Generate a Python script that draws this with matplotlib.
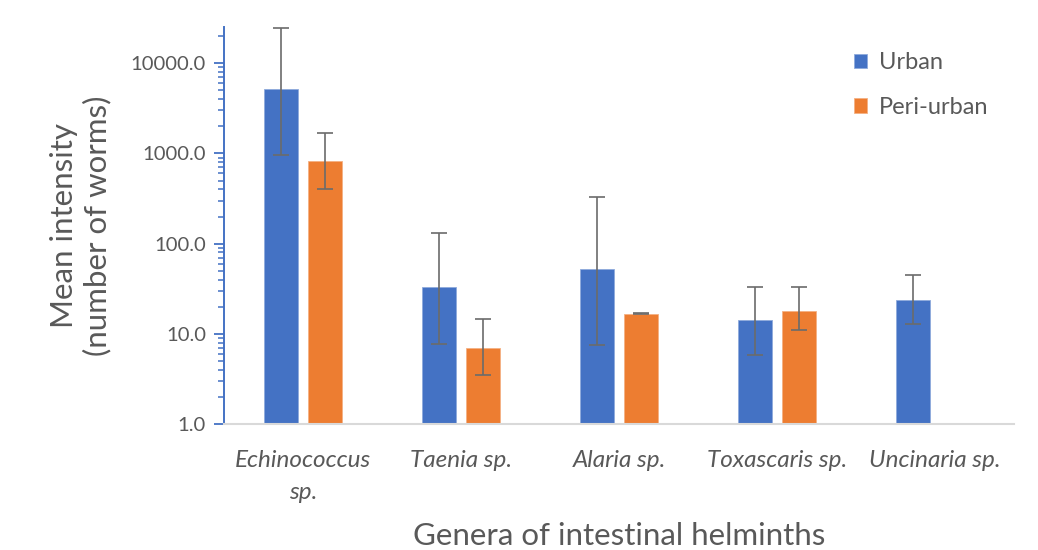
import matplotlib
matplotlib.use("Agg")
import matplotlib.pyplot as plt
import numpy as np
from matplotlib.ticker import LogLocator, FixedLocator, FuncFormatter, NullFormatter

plt.rcParams['font.family'] = ['Lato', 'DejaVu Sans']

genera = ["Echinococcus\nsp.", "Taenia sp.", "Alaria sp.", "Toxascaris sp.", "Uncinaria sp."]

# mean intensity with lower / upper error limits (nan = no data)
urban = [5250, 32.7, 52, 14.3, 24]
urban_lo = [956, 7.7, 7.5, 5.9, 12.8]
urban_hi = [24500, 130, 333, 33, 44.5]

peri = [818, 6.9, 16.8, 18, np.nan]
peri_lo = [400, 3.5, 16.8, 11, np.nan]
peri_hi = [1680, 14.6, 17.1, 33, np.nan]

blue = "#4472c4"
orange = "#ed7d31"
grey = "#595959"

fig = plt.figure(figsize=(10.38, 5.5), dpi=100)
ax = fig.add_axes([0.2158, 0.229, 0.761, 0.722])

x = np.arange(len(genera))
w = 0.22
off = 0.139

def err(vals, lo, hi):
    v = np.array(vals, dtype=float)
    return [v - np.array(lo, dtype=float), np.array(hi, dtype=float) - v]

ax.bar(x - off, urban, w, color=blue, edgecolor="#8faadc", linewidth=0.6, label="Urban", zorder=2)
ax.bar(x + off, peri, w, color=orange, edgecolor="#f4b183", linewidth=0.6, label="Peri-urban", zorder=2)
ax.errorbar(x - off, urban, yerr=err(urban, urban_lo, urban_hi), fmt="none",
            ecolor="#6b6b6b", elinewidth=1.2, capsize=6, capthick=1.2, zorder=3)
ax.errorbar(x + off, peri, yerr=err(peri, peri_lo, peri_hi), fmt="none",
            ecolor="#6b6b6b", elinewidth=1.2, capsize=6, capthick=1.2, zorder=3)

ax.set_yscale("log")
ax.set_ylim(1, 25300)
ax.set_xlim(-0.5, len(genera) - 0.5)

ax.yaxis.set_major_locator(FixedLocator([1, 10, 100, 1000, 10000]))
ax.yaxis.set_major_formatter(FuncFormatter(lambda v, p: f"{v:.1f}"))
ax.yaxis.set_minor_locator(LogLocator(base=10, subs=np.arange(2, 10)))
ax.yaxis.set_minor_formatter(NullFormatter())
ax.tick_params(axis="y", which="major", direction="out", length=7, width=1.3,
               color=blue, labelsize=14.6, labelcolor=grey, pad=6)
ax.tick_params(axis="y", which="minor", direction="out", length=4, width=1.1, color=blue)

ax.set_xticks(x)
ax.set_xticklabels(genera, style="italic", fontsize=17.5, color=grey, linespacing=1.6)
ax.tick_params(axis="x", length=0, pad=19)

for s in ["top", "right"]:
    ax.spines[s].set_visible(False)
ax.spines["left"].set_color(blue)
ax.spines["left"].set_linewidth(1.4)
ax.spines["bottom"].set_color("#d9d9d9")
ax.spines["bottom"].set_linewidth(1.5)

ax.set_xlabel("Genera of intestinal helminths", fontsize=22.5, color=grey, labelpad=14)
ax.set_ylabel("Mean intensity\n(number of worms)", fontsize=22.5, color=grey, labelpad=14,
              linespacing=1.2)

ax.legend(loc="upper right", bbox_to_anchor=(0.995, 0.99), frameon=False, fontsize=17,
          labelcolor=grey, handlelength=0.55, handleheight=0.55, handletextpad=0.5,
          labelspacing=1.0)

fig.savefig("out.png", dpi=100)
